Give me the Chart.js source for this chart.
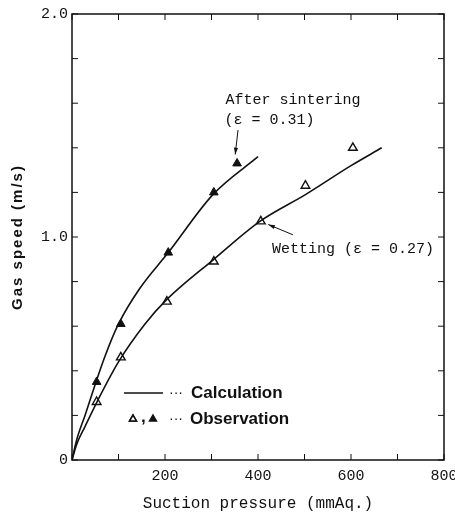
<!DOCTYPE html>
<html>
<head>
<meta charset="utf-8">
<script src="https://cdn.jsdelivr.net/npm/chart.js@4.4.0/dist/chart.umd.min.js"></script>
<style>
html, body { margin: 0; padding: 0; background: #fff; }
#wrap { width: 455px; height: 517px; }
</style>
</head>
<body>
<div id="wrap"><canvas id="myChart"></canvas></div>
<script>
// calculated curves
const calcSinterX = [0, 10, 28, 50, 70, 100, 146, 207, 303, 400]
const calcSinterY = [0, 0.09, 0.2, 0.34, 0.46, 0.61, 0.77, 0.93, 1.19, 1.36]
const calcWetX = [0, 10, 28, 56, 100, 157, 204, 305, 404, 502, 600, 666]
const calcWetY = [0, 0.07, 0.15, 0.27, 0.44, 0.61, 0.72, 0.9, 1.07, 1.19, 1.32, 1.4]

// observed points
const obsSinterX = [53, 105, 207, 305, 355]
const obsSinterY = [0.35, 0.61, 0.93, 1.2, 1.33]
const obsWetX = [53, 105, 204, 305, 406, 502, 604]
const obsWetY = [0.26, 0.46, 0.71, 0.89, 1.07, 1.23, 1.4]

// tick labels
const xTickLabels = [200, 400, 600, 800]
const yTickLabels = ["0", "1.0", "2.0"]

function pts(xs, ys) {
    return xs.map((v, i) => ({ x: v, y: ys[i] }))
}

const ink = "#111"
const mono = "'Liberation Mono', 'DejaVu Sans Mono', monospace"
const sans = "'Liberation Sans', Arial, sans-serif"

function arrow(ctx, x1, y1, x2, y2) {
    const ang = Math.atan2(y2 - y1, x2 - x1)
    ctx.beginPath()
    ctx.moveTo(x1, y1)
    ctx.lineTo(x2, y2)
    ctx.stroke()
    ctx.beginPath()
    ctx.moveTo(x2, y2)
    ctx.lineTo(x2 - 7 * Math.cos(ang - 0.3), y2 - 7 * Math.sin(ang - 0.3))
    ctx.lineTo(x2 - 7 * Math.cos(ang + 0.3), y2 - 7 * Math.sin(ang + 0.3))
    ctx.closePath()
    ctx.fill()
}

// frame with inward ticks on all four sides
const frame = {
    id: "frame",
    beforeDatasetsDraw(chart) {
        const { ctx, chartArea: a, scales: { x, y } } = chart
        ctx.save()
        ctx.strokeStyle = ink
        ctx.lineWidth = 1.5
        ctx.strokeRect(a.left, a.top, a.right - a.left, a.bottom - a.top)
        ctx.lineWidth = 1
        ctx.beginPath()
        x.ticks.forEach(t => {
            const px = x.getPixelForValue(t.value)
            ctx.moveTo(px, a.bottom); ctx.lineTo(px, a.bottom - 6)
            ctx.moveTo(px, a.top); ctx.lineTo(px, a.top + 6)
        })
        y.ticks.forEach(t => {
            const py = y.getPixelForValue(t.value)
            ctx.moveTo(a.left, py); ctx.lineTo(a.left + 6, py)
            ctx.moveTo(a.right, py); ctx.lineTo(a.right - 6, py)
        })
        ctx.stroke()
        ctx.restore()
    },
    afterDatasetsDraw(chart) {
        const { ctx, chartArea: a, scales: { x, y } } = chart
        ctx.save()
        ctx.fillStyle = ink
        ctx.strokeStyle = ink
        ctx.lineWidth = 1

        // y axis title
        ctx.save()
        ctx.translate(18, (a.top + a.bottom) / 2)
        ctx.rotate(-Math.PI / 2)
        ctx.font = "bold 15px " + sans
        ctx.letterSpacing = "2px"
        ctx.textAlign = "center"
        ctx.textBaseline = "middle"
        ctx.fillText("Gas speed (m/s)", 0, 0)
        ctx.restore()

        // annotations
        ctx.font = "15px " + mono
        ctx.textBaseline = "alphabetic"
        ctx.textAlign = "left"
        ctx.fillText("After sintering", x.getPixelForValue(330), y.getPixelForValue(1.596))
        ctx.fillText("(\u03b5 = 0.31)", x.getPixelForValue(328), y.getPixelForValue(1.507))
        ctx.fillText("Wetting (\u03b5 = 0.27)", x.getPixelForValue(430), y.getPixelForValue(0.928))
        arrow(ctx, x.getPixelForValue(357), y.getPixelForValue(1.48), x.getPixelForValue(351), y.getPixelForValue(1.37))
        arrow(ctx, x.getPixelForValue(475), y.getPixelForValue(1.01), x.getPixelForValue(422), y.getPixelForValue(1.056))

        // legend
        const lx = a.left, by = a.bottom
        ctx.lineWidth = 1.5
        ctx.beginPath()
        ctx.moveTo(lx + 52, by - 67)
        ctx.lineTo(lx + 91, by - 67)
        ctx.stroke()
        ctx.font = "14px " + sans
        ctx.textBaseline = "middle"
        ctx.fillText("\u00b7\u00b7\u00b7", lx + 97, by - 67)
        ctx.fillText("\u00b7\u00b7\u00b7", lx + 97, by - 41)
        ctx.font = "bold 17px " + sans
        ctx.fillText("Calculation", lx + 119, by - 67)
        ctx.fillText("Observation", lx + 118, by - 41)
        ctx.fillText(",", lx + 69, by - 43)
        Chart.helpers.drawPoint(ctx, { pointStyle: "triangle", radius: 4, borderWidth: 1.2 }, lx + 61, by - 41)
        ctx.fillStyle = "#fff"
        ctx.fill()
        ctx.stroke()
        ctx.fillStyle = ink
        Chart.helpers.drawPoint(ctx, { pointStyle: "triangle", radius: 4, borderWidth: 1.2 }, lx + 81, by - 41)
        ctx.restore()
    }
}

const data = {
    datasets: [{
        label: "Calculation (sintering)",
        data: pts(calcSinterX, calcSinterY),
        showLine: true,
        cubicInterpolationMode: "monotone",
        borderColor: ink,
        borderWidth: 1.6,
        pointRadius: 0
    }, {
        label: "Calculation (wetting)",
        data: pts(calcWetX, calcWetY),
        showLine: true,
        cubicInterpolationMode: "monotone",
        borderColor: ink,
        borderWidth: 1.6,
        pointRadius: 0
    }, {
        label: "Observation (sintering)",
        data: pts(obsSinterX, obsSinterY),
        pointStyle: "triangle",
        pointRadius: 5,
        backgroundColor: ink,
        borderColor: ink,
        borderWidth: 1
    }, {
        label: "Observation (wetting)",
        data: pts(obsWetX, obsWetY),
        pointStyle: "triangle",
        pointRadius: 5,
        backgroundColor: "#fff",
        borderColor: ink,
        borderWidth: 1.4
    }]
}

const config = {
    type: "scatter",
    data,
    plugins: [frame],
    options: {
        responsive: true,
        maintainAspectRatio: false,
        animation: false,
        layout: { padding: { top: 14, right: 11, left: 0, bottom: 0 } },
        plugins: { legend: { display: false }, tooltip: { enabled: false } },
        scales: {
            x: {
                type: "linear",
                min: 0, max: 800,
                grid: { display: false, drawTicks: false },
                border: { display: false },
                ticks: {
                    stepSize: 100,
                    autoSkip: false,
                    maxRotation: 0,
                    padding: 7,
                    color: ink,
                    font: { family: mono, size: 15 },
                    callback: v => xTickLabels.includes(v) ? String(v) : ""
                },
                title: {
                    display: true,
                    text: "Suction pressure (mmAq.)",
                    color: ink,
                    font: { family: mono, size: 16 },
                    padding: { top: 4, bottom: 4 }
                },
                afterFit: s => { s.height = 57; s.paddingLeft = 0; s.paddingRight = 0 }
            },
            y: {
                type: "linear",
                min: 0, max: 2,
                grid: { display: false, drawTicks: false },
                border: { display: false },
                ticks: {
                    stepSize: 0.2,
                    autoSkip: false,
                    padding: 4,
                    color: ink,
                    font: { family: mono, size: 15 },
                    callback: v => Math.abs(v - Math.round(v)) < 1e-6 ? yTickLabels[Math.round(v)] : ""
                },
                afterFit: s => { s.width = 72 }
            }
        }
    }
}

var myChart = new Chart(document.getElementById("myChart").getContext("2d"), config)
</script>
</body>
</html>
